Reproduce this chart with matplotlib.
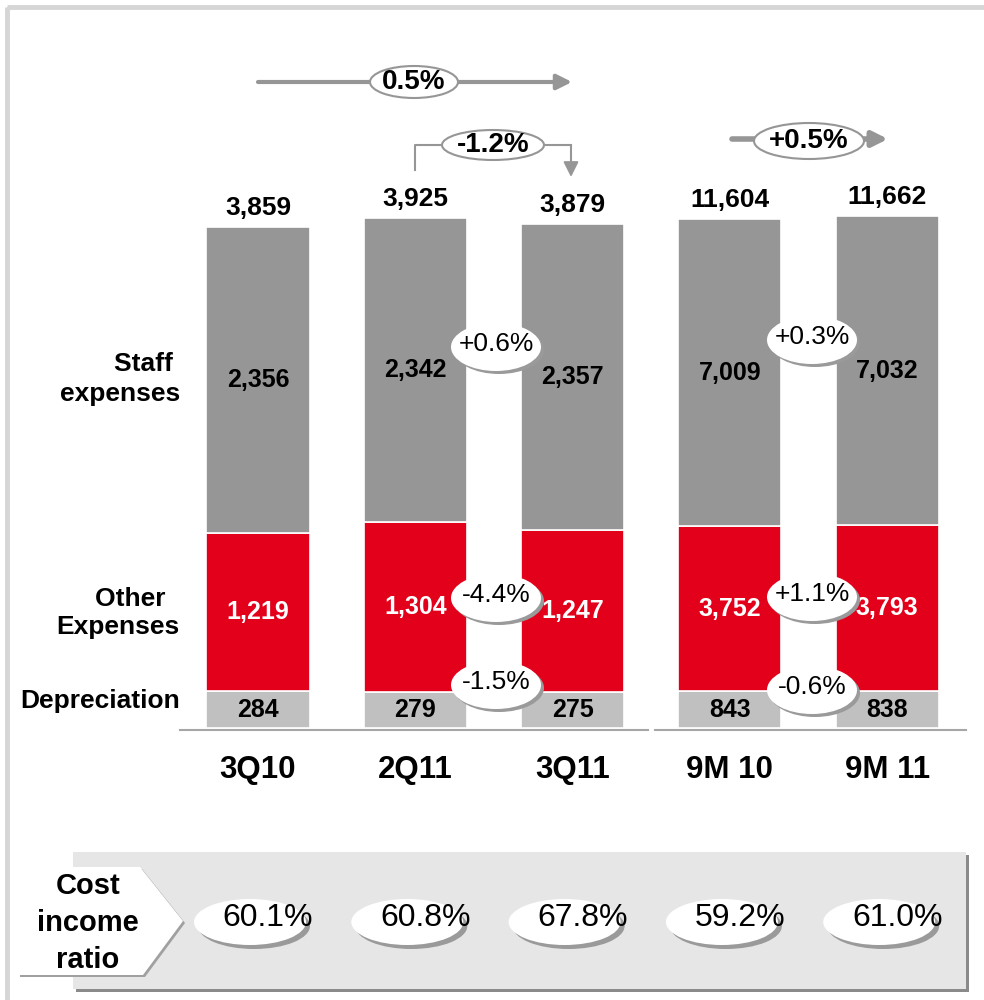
import matplotlib
matplotlib.use("Agg")
import matplotlib.pyplot as plt
import numpy as np
from matplotlib.patches import Ellipse, Rectangle, Polygon

plt.rcParams['font.family'] = ['Liberation Sans', 'DejaVu Sans']

periods = ['3Q10', '2Q11', '3Q11', '9M 10', '9M 11']
staff = [2356, 2342, 2357, 7009, 7032]
other = [1219, 1304, 1247, 3752, 3793]
depreciation = [284, 279, 275, 843, 838]
totals = [3859, 3925, 3879, 11604, 11662]
cost_income = ['60.1%', '60.8%', '67.8%', '59.2%', '61.0%']
qoq_changes = ['+0.6%', '-4.4%', '-1.5%']
ytd_changes = ['+0.3%', '+1.1%', '-0.6%']
total_changes = ['0.5%', '-1.2%', '+0.5%']

RED = '#e2001a'
GREY = '#969696'
LIGHT = '#c0c0c0'

W, H = 984, 1000
fig = plt.figure(figsize=(W / 100, H / 100), dpi=100)

# background layer (frame and ratio panel), pixel coords
bg = fig.add_axes([0, 0, 1, 1], zorder=0)
bg.set_xlim(0, W)
bg.set_ylim(H, 0)
bg.axis('off')
bg.add_patch(Rectangle((7, 7), W, H, fill=False, ec='#d6d6d6', lw=3.5))

# bar axes: quarters on the left scale, nine-month totals on a compressed one
step = 157.3
x0 = 258
xpos = np.arange(len(periods))
ax = fig.add_axes([0, 0, 1, 1], zorder=1)
ax.set_xlim(-x0 / step, (W - x0) / step)
per_px = 7.70
base_px = 728
ax.set_ylim(-(H - base_px) * per_px, base_px * per_px)
ax.axis('off')
ax.patch.set_visible(False)

ax9 = ax.twinx()
ax9.set_zorder(2)
ax9.set_ylim(-(H - base_px) * per_px * 2.96, base_px * per_px * 2.96)
ax9.axis('off')
ax9.patch.set_visible(False)

bw = 0.655
for i in range(len(periods)):
    a = ax if i < 3 else ax9
    d, o, s = depreciation[i], other[i], staff[i]
    a.bar(xpos[i], d, bw, color=LIGHT, ec='white', lw=1.2)
    a.bar(xpos[i], o, bw, bottom=d, color=RED, ec='white', lw=1.2)
    a.bar(xpos[i], s, bw, bottom=d + o, color=GREY, ec='white', lw=1.2)
    a.text(xpos[i], d / 2, f'{d:,}', ha='center', va='center',
           fontsize=18, fontweight='bold', color='black')
    a.text(xpos[i], d + o / 2, f'{o:,}', ha='center', va='center',
           fontsize=18, fontweight='bold', color='white')
    a.text(xpos[i], d + o + s / 2, f'{s:,}', ha='center', va='center',
           fontsize=18, fontweight='bold', color='black')
    a.annotate(f'{totals[i]:,}', (xpos[i], totals[i]), xytext=(0, 5),
               textcoords='offset points', ha='center', va='bottom',
               fontsize=19, fontweight='bold')
    ax.text(xpos[i], -(770 - base_px) * per_px, periods[i], ha='center',
            va='center', fontsize=22.5, fontweight='bold')

# overlay layer for callouts, pixel coords
ov = fig.add_axes([0, 0, 1, 1], zorder=3)
ov.set_xlim(0, W)
ov.set_ylim(H, 0)
ov.axis('off')
ov.patch.set_visible(False)

ov.plot([180, 648], [730, 730], color='#a6a6a6', lw=1.5)
ov.plot([655, 966], [730, 730], color='#a6a6a6', lw=1.5)

ov.text(180, 379, 'Staff \nexpenses', ha='right', va='center', fontsize=19,
        fontweight='bold', multialignment='right', linespacing=1.3)
ov.text(180, 613, 'Other  \nExpenses', ha='right', va='center', fontsize=19,
        fontweight='bold', multialignment='right', linespacing=1.2)
ov.text(180, 701, 'Depreciation', ha='right', va='center', fontsize=19,
        fontweight='bold')


def bubble(x, y, label, w=90, h=48, size=19, dx=0, dy=0, off=3):
    ov.add_patch(Ellipse((x + off, y + off), w, h, color='#9a9a9a', lw=0,
                         zorder=4))
    ov.add_patch(Ellipse((x, y), w, h, color='white', lw=0, zorder=4))
    ov.text(x + dx, y + dy, label, ha='center', va='center', fontsize=size,
            zorder=5)


for lbl, yy in zip(qoq_changes, [347, 598, 685]):
    bubble(496, yy, lbl, dy=-3)
for lbl, yy in zip(ytd_changes, [340, 597, 690]):
    bubble(812, yy, lbl, dy=-3)

# growth arrows above the bars
arrow = dict(arrowstyle='-|>,head_length=0.9,head_width=0.45', color=GREY,
             shrinkA=0, shrinkB=0)
ov.annotate('', xy=(572, 82), xytext=(258, 82),
            arrowprops=dict(arrow, lw=3))
ov.plot([415, 415, 571], [170, 145, 145], color=GREY, lw=1.5)
ov.annotate('', xy=(571, 177), xytext=(571, 145),
            arrowprops=dict(arrow, lw=1.5))
ov.annotate('', xy=(888, 139), xytext=(732, 139),
            arrowprops=dict(arrow, lw=4))

for (cx, cy, w, h), lbl in zip([(414, 82, 88, 32), (493, 145, 102, 30),
                                (809, 141, 110, 36)], total_changes):
    ov.add_patch(Ellipse((cx, cy), w, h, fc='white', ec=GREY, lw=1.5,
                         zorder=4))
    ov.text(cx, cy, lbl, ha='center', va='center', fontsize=20,
            fontweight='bold', zorder=5)

# cost income ratio panel
bg.add_patch(Rectangle((76, 855), 893, 137, color='#8a8a8a', lw=0))
bg.add_patch(Rectangle((73, 852), 893, 137, color='#e6e6e6', lw=0))
tag = [(18, 867), (140, 867), (183, 921), (143, 975), (18, 975)]
ov.add_patch(Polygon([(px + 2, py + 2) for px, py in tag], color='#a0a0a0',
                     lw=0))
ov.add_patch(Polygon(tag, color='white', lw=0))
ov.text(88, 923, 'Cost\nincome\nratio', ha='center', va='center',
        fontsize=21, fontweight='bold', linespacing=1.4)

for i, lbl in enumerate(cost_income):
    cx = x0 + step * i
    ov.add_patch(Ellipse((cx - 8 + 4, 922 + 4), 112, 46, color='#9a9a9a',
                         lw=0))
    ov.add_patch(Ellipse((cx - 8, 922), 112, 46, color='white', lw=0))
    ov.text(cx + 10, 918, lbl, ha='center', va='center', fontsize=23)

fig.savefig('out.png', dpi=100)
